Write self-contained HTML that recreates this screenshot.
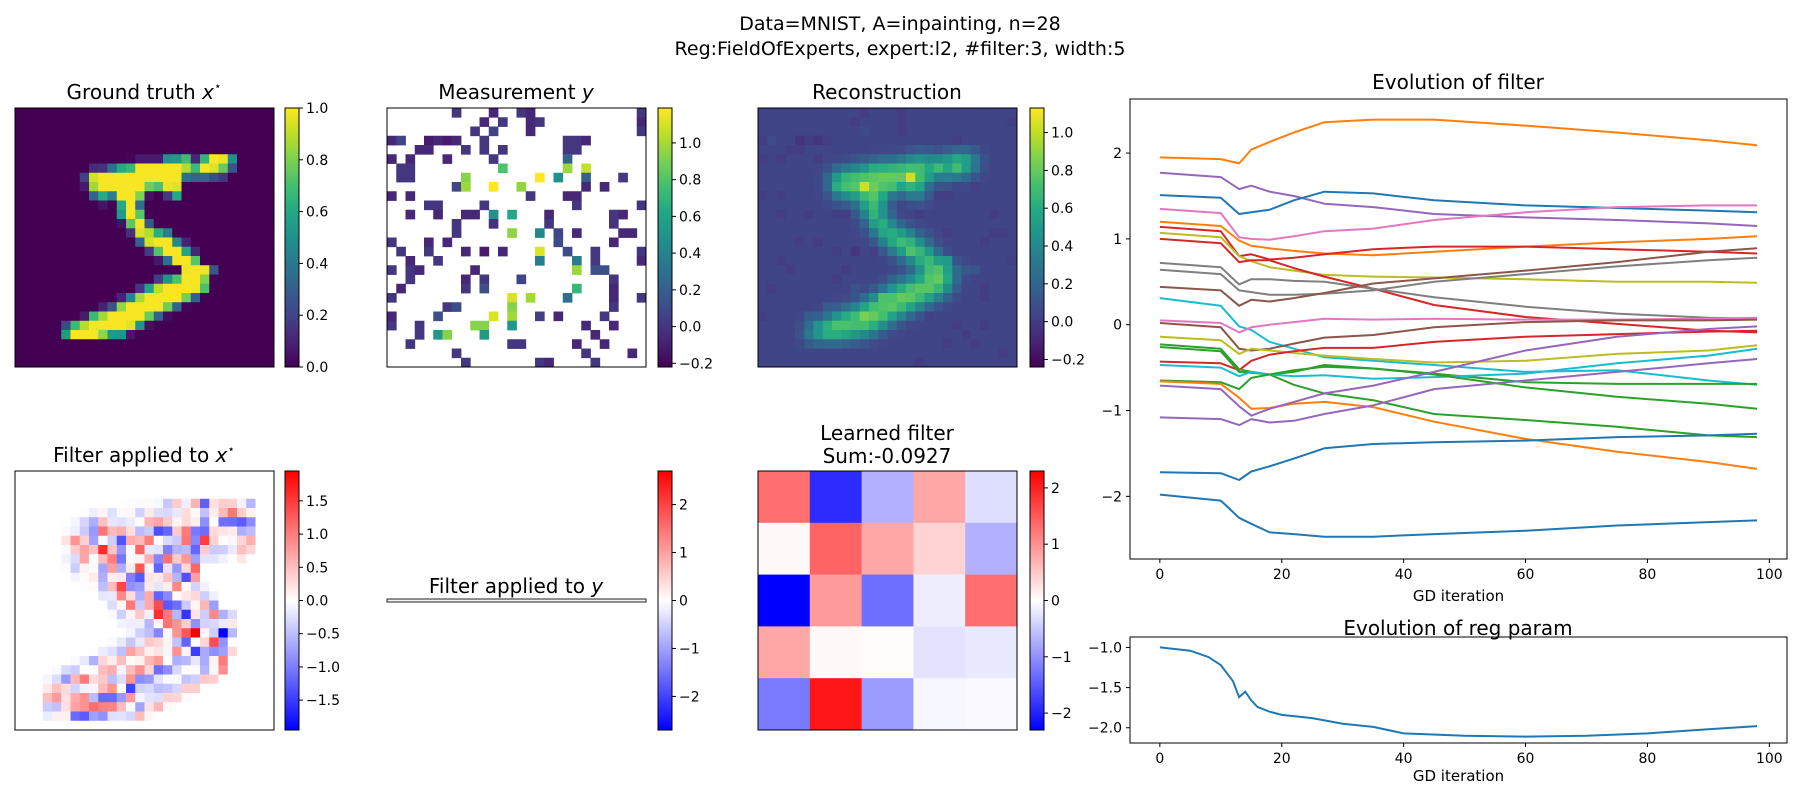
<!DOCTYPE html>
<html><head><meta charset="utf-8"><style>
html,body{margin:0;padding:0;background:#fff}
svg{display:block;font-family:"DejaVu Sans","Liberation Sans",sans-serif}
</style></head><body>
<svg id="fig" width="1800" height="800" viewBox="0 0 1800 800" xmlns="http://www.w3.org/2000/svg">
<rect width="1800" height="800" fill="#fff"/>
<text x="900" y="30" font-size="19" text-anchor="middle">Data=MNIST, A=inpainting, n=28</text>
<text x="900" y="55" font-size="19" text-anchor="middle">Reg:FieldOfExperts, expert:l2, #filter:3, width:5</text>
<text x="144" y="99" font-size="20" text-anchor="middle">Ground truth <tspan font-style="italic">x</tspan><tspan font-size="12" dy="-9">⋆</tspan></text>
<text x="516" y="99" font-size="20" text-anchor="middle">Measurement <tspan font-style="italic">y</tspan></text>
<text x="887" y="99" font-size="20" text-anchor="middle">Reconstruction</text>
<text x="144" y="462" font-size="20" text-anchor="middle">Filter applied to <tspan font-style="italic">x</tspan><tspan font-size="12" dy="-9">⋆</tspan></text>
<text x="516" y="593" font-size="20" text-anchor="middle">Filter applied to <tspan font-style="italic">y</tspan></text>
<text x="887" y="440" font-size="20" text-anchor="middle">Learned filter</text>
<text x="887" y="463" font-size="20" text-anchor="middle">Sum:-0.0927</text>
<text x="1458" y="89" font-size="20" text-anchor="middle">Evolution of filter</text>
<text x="1458" y="635" font-size="20" text-anchor="middle">Evolution of reg param</text>
<g id="layer"></g>
</svg>
<script>
// ---------- DATA ----------
const GT_SPARSE = [
[5,12,[3,18,18,18,126,136,175,26,166,255,247,127]],
[6,8,[30,36,94,154,170,253,253,253,253,253,225,172,253,242,195,64]],
[7,7,[49,238,253,253,253,253,253,253,253,253,251,93,82,82,56,39]],
[8,7,[18,219,253,253,253,253,253,198,182,247,241]],
[9,8,[80,156,107,253,253,205,11,0,43,154]],
[10,9,[14,1,154,253,90]],
[11,11,[139,253,190,2]],
[12,11,[11,190,253,70]],
[13,12,[35,241,225,160,108,1]],
[14,13,[81,240,253,253,119,25]],
[15,14,[45,186,253,253,150,27]],
[16,15,[16,93,252,253,187]],
[17,18,[249,253,249,64]],
[18,15,[46,130,183,253,253,207,2]],
[19,13,[39,148,229,253,253,253,250,182]],
[20,11,[24,114,221,253,253,253,253,201,78]],
[21,9,[23,66,213,253,253,253,253,198,81,2]],
[22,7,[18,171,219,253,253,253,253,195,80,9]],
[23,5,[55,172,226,253,253,253,253,244,133,11]],
[24,5,[136,253,253,253,212,135,132,16]]
];
const MASK_ROWS = [
".......3...2..32...........3",
"..........2.3..23..........2",
".........3.4...2...........3",
"24..1212..3........332......",
"...22...3.3.3......33.......",
"2.2...2....3.......5........",
".33.........5......8.5......",
".33.....3.......9.5..3...3..",
".......35..9..6......2.2....",
"2.2............3...22.......",
"....33....3.........3......3",
"..2..2..22.2.1...2......32..",
".......3...2.....3......3...",
".......3.....3..3.4.2....22.",
"3...2.2...........3.....2...",
".3..3...2.1.2...5..3..3....3",
"..2..3..........3...9.3....2",
"3.32.....2..........3.55....",
"..3.....2.3...4.........3...",
".2......3.5.........3...2...",
"3............7.3...3....2..3",
"......35.....2..........3...",
"2....5.....5.3..3.2....3....",
"3..3.....22..3.......2..2...",
"...3.32...3...........2.....",
"..3..........33.....2..2....",
".......3.............3....2.",
"........3.......32....3....."
];
const FILTER = [
[1.3,-1.9,-0.7,0.8,-0.3],
[0.05,1.4,0.8,0.4,-0.7],
[-2.3,0.9,-1.3,-0.15,1.3],
[0.8,0.05,0.03,-0.25,-0.2],
[-1.2,2.1,-0.9,-0.07,-0.05]
];
const ITERS = [0,10,13,15,18,22,27,35,45,60,75,90,98];
const F1=[1.95,1.93,1.88,2.04,2.13,2.24,2.36,2.39,2.39,2.32,2.24,2.15,2.09];
const F2=[1.77,1.72,1.58,1.62,1.55,1.50,1.41,1.37,1.29,1.25,1.22,1.18,1.15];
const F3=[1.51,1.48,1.29,1.31,1.34,1.45,1.55,1.53,1.45,1.39,1.36,1.33,1.31];
const F4=[1.35,1.30,1.02,1.00,0.99,1.03,1.09,1.12,1.22,1.31,1.37,1.39,1.39];
const F5=[1.20,1.15,0.98,0.92,0.89,0.86,0.83,0.81,0.85,0.91,0.96,1.00,1.03];
const F6=[1.14,1.09,0.80,0.82,0.76,0.78,0.82,0.88,0.91,0.91,0.88,0.85,0.83];
const F7=[1.07,1.02,0.80,0.74,0.67,0.63,0.58,0.56,0.55,0.53,0.50,0.50,0.49];
const F8=[1.00,0.95,0.73,0.75,0.75,0.66,0.56,0.42,0.23,0.09,0.01,-0.07,-0.09];
const F9=[0.72,0.67,0.47,0.53,0.53,0.51,0.50,0.42,0.32,0.21,0.13,0.08,0.07];
const F10=[0.64,0.59,0.40,0.38,0.35,0.35,0.36,0.40,0.50,0.59,0.68,0.75,0.78];
const F11=[0.44,0.40,0.22,0.29,0.27,0.31,0.37,0.48,0.54,0.63,0.73,0.85,0.89];
const F12=[0.31,0.22,-0.02,-0.06,-0.20,-0.28,-0.38,-0.42,-0.47,-0.55,-0.53,-0.65,-0.70];
const F13=[0.05,0.02,-0.09,-0.03,0.00,0.03,0.07,0.06,0.07,0.06,0.06,0.07,0.08];
const F14=[0.02,-0.03,-0.28,-0.30,-0.28,-0.22,-0.15,-0.12,-0.03,0.03,0.05,0.05,0.06];
const F15=[-0.14,-0.18,-0.34,-0.28,-0.30,-0.33,-0.36,-0.40,-0.44,-0.42,-0.34,-0.30,-0.24];
const F16=[-0.43,-0.45,-0.53,-0.42,-0.35,-0.31,-0.27,-0.27,-0.20,-0.14,-0.11,-0.08,-0.07];
const F17=[-0.23,-0.28,-0.52,-0.55,-0.58,-0.55,-0.47,-0.51,-0.57,-0.67,-0.69,-0.69,-0.69];
const F18=[-0.26,-0.31,-0.55,-0.56,-0.58,-0.70,-0.80,-0.88,-1.04,-1.11,-1.19,-1.29,-1.31];
const F19=[-0.47,-0.50,-0.60,-0.55,-0.58,-0.60,-0.59,-0.63,-0.61,-0.57,-0.45,-0.36,-0.28];
const F20=[-0.65,-0.67,-0.75,-0.62,-0.58,-0.53,-0.49,-0.51,-0.58,-0.73,-0.84,-0.92,-0.98];
const F21=[-0.66,-0.69,-0.85,-0.98,-0.97,-0.92,-0.90,-0.96,-1.13,-1.33,-1.48,-1.60,-1.68];
const F22=[-0.71,-0.75,-0.95,-1.06,-0.98,-0.90,-0.80,-0.71,-0.55,-0.30,-0.14,-0.05,-0.02];
const F23=[-1.08,-1.10,-1.17,-1.10,-1.14,-1.12,-1.04,-0.94,-0.75,-0.65,-0.55,-0.45,-0.40];
const F24=[-1.72,-1.73,-1.81,-1.71,-1.65,-1.56,-1.44,-1.39,-1.37,-1.35,-1.31,-1.29,-1.27];
const F25=[-1.98,-2.05,-2.25,-2.32,-2.42,-2.44,-2.47,-2.47,-2.44,-2.40,-2.34,-2.30,-2.28];
const FILTER_SERIES=[F1,F2,F3,F4,F5,F6,F7,F8,F9,F10,F11,F12,F13,F14,F15,F16,F17,F18,F19,F20,F21,F22,F23,F24,F25];
const SERIES_COLORS=["#ff7f0e","#9467bd","#1f77b4","#e377c2","#ff7f0e","#d62728","#bcbd22","#d62728","#7f7f7f","#7f7f7f","#8c564b","#17becf","#e377c2","#8c564b","#bcbd22","#d62728","#2ca02c","#2ca02c","#17becf","#2ca02c","#ff7f0e","#9467bd","#9467bd","#1f77b4","#1f77b4"];
const REG_ITERS=[0,5,8,10,12,13,14,15,16,18,20,25,30,35,40,50,60,70,80,90,98];
const REG_VALS=[-1.0,-1.04,-1.12,-1.22,-1.42,-1.62,-1.55,-1.66,-1.74,-1.8,-1.84,-1.88,-1.95,-1.99,-2.07,-2.1,-2.11,-2.1,-2.07,-2.02,-1.98];
const FILTER_X_TICKS=[0,20,40,60,80,100];
const FILTER_Y_TICKS=[-2,-1,0,1,2];
const REG_Y_TICKS=[-1.0,-1.5,-2.0];

// ---------- helpers ----------
const NS="http://www.w3.org/2000/svg";
const layer=document.getElementById('layer');
function mk(tag,attrs,parent){const e=document.createElementNS(NS,tag);for(const k in attrs)e.setAttribute(k,attrs[k]);(parent||layer).appendChild(e);return e;}
const VIR=["#440154","#482475","#414487","#355f8d","#2a788e","#21918c","#22a884","#44bf70","#7ad151","#bddf26","#fde725"];
function hex(h){return [parseInt(h.slice(1,3),16),parseInt(h.slice(3,5),16),parseInt(h.slice(5,7),16)];}
function viridis(t){t=Math.max(0,Math.min(1,t));const p=t*10,i=Math.min(9,Math.floor(p)),f=p-i;const a=hex(VIR[i]),b=hex(VIR[i+1]);return `rgb(${a.map((v,k)=>Math.round(v+(b[k]-v)*f)).join(',')})`;}
function bwr(t){t=Math.max(0,Math.min(1,t));let r,g,b;if(t<0.5){const f=t/0.5;r=Math.round(255*f);g=r;b=255;}else{const f=(t-0.5)/0.5;r=255;g=Math.round(255*(1-f));b=g;}return `rgb(${r},${g},${b})`;}

const GT=[];for(let r=0;r<28;r++){GT.push(new Array(28).fill(0));}
GT_SPARSE.forEach(([r,c,vals])=>vals.forEach((v,k)=>GT[r][c+k]=v/255));

function heat(name,x0,y0,w,h,grid,colorFn){
  const g=mk('g',{});
  
  
  const R=grid.length,C=grid[0].length,cw=w/C,ch=h/R;
  for(let r=0;r<R;r++)for(let c=0;c<C;c++){const v=grid[r][c];if(v===null)continue;
    const cell=mk('rect',{x:(x0+c*cw).toFixed(2),y:(y0+r*ch).toFixed(2),width:(cw+0.4).toFixed(2),height:(ch+0.4).toFixed(2),fill:colorFn(v)},g);
    
    }
  const fr=mk('rect',{x:x0,y:y0,width:w,height:h,fill:'none',stroke:'#000','stroke-width':1},g);
  
  
}
let gid=0;
function colorbar(name,x0,y0,y1,vmin,vmax,ticks,fmt,fn){
  const g=mk('g',{});
  
  
  const id='cg'+(gid++);
  const lg=mk('linearGradient',{id:id,x1:0,y1:1,x2:0,y2:0},g);
  for(let i=0;i<=20;i++)mk('stop',{offset:(i/20),'stop-color':fn(i/20)},lg);
  mk('rect',{x:x0,y:y0,width:14,height:y1-y0,fill:`url(#${id})`,stroke:'#000','stroke-width':1},g);
  ticks.forEach(t=>{const y=y1-(t-vmin)/(vmax-vmin)*(y1-y0);
    mk('line',{x1:x0+14,x2:x0+18,y1:y,y2:y,stroke:'#000','stroke-width':1},g);
    const tx=mk('text',{x:x0+21,y:y+5,'font-size':14},g);tx.textContent=fmt(t).replace('-','−');
    
    });
}
const f1=v=>v.toFixed(1), f0=v=>v.toFixed(0);

// ---------- ground truth ----------
heat('ground-truth-image',15,108,259,259,GT,v=>viridis(v));
colorbar('ground-truth-colorbar',285,108,367,0,1,[0,0.2,0.4,0.6,0.8,1.0],f1,viridis);

// ---------- measurement ----------
const MEAS=GT.map((row,r)=>row.map((v,c)=>{const ch=(MASK_ROWS[r]||'')[c];if(!ch||ch==='.')return null;return v+(parseInt(ch)-3)*0.06;}));
const mmin=-0.22,mmax=1.19;
heat('measurement-image',387,108,259,259,MEAS,v=>viridis((v-mmin)/(mmax-mmin)));
colorbar('measurement-colorbar',658,108,367,mmin,mmax,[-0.2,0,0.2,0.4,0.6,0.8,1.0],f1,viridis);

// ---------- reconstruction ----------
const RECON=GT.map((row,r)=>row.map((v,c)=>{let s=0,w=0;for(let a=-1;a<=1;a++)for(let b=-1;b<=1;b++){const rr=r+a,cc=c+b;if(rr<0||cc<0||rr>27||cc>27)continue;const k=(a===0?2:1)*(b===0?2:1);s+=GT[rr][cc]*k;w+=k;}
  const m=MEAS[r][c];return 0.04+0.8*(s/w)+(m===null?0:(m-v)*0.6);}));
const rmin=-0.24,rmax=1.13;
heat('reconstruction-image',758,108,259,259,RECON,v=>viridis((v-rmin)/(rmax-rmin)));
colorbar('reconstruction-colorbar',1030,108,367,rmin,rmax,[-0.2,0,0.2,0.4,0.6,0.8,1.0],f1,viridis);

// ---------- filter applied to x* (same padding) ----------
const FX=[];for(let i=0;i<28;i++){const row=[];for(let j=0;j<28;j++){let s=0;for(let a=0;a<5;a++)for(let b=0;b<5;b++){const rr=i-2+a,cc=j-2+b;if(rr<0||cc<0||rr>27||cc>27)continue;s+=FILTER[a][b]*GT[rr][cc];}row.push(s);}FX.push(row);}
let fxMax=0;FX.forEach(r=>r.forEach(v=>fxMax=Math.max(fxMax,Math.abs(v))));
heat('filter-applied-x-image',15,471,259,259,FX,v=>bwr(0.5+0.5*v/fxMax*1.1));
colorbar('filter-applied-x-colorbar',285,471,730,-1.95,1.95,[-1.5,-1,-0.5,0,0.5,1,1.5],f1,bwr);

// ---------- filter applied to y (squashed) ----------
const fy=mk('rect',{x:387,y:599,width:259,height:3,fill:'#f4f4f4',stroke:'#222','stroke-width':1});


colorbar('filter-applied-y-colorbar',658,471,730,-2.7,2.7,[-2,-1,0,1,2],f0,bwr);

// ---------- learned filter ----------
heat('learned-filter-image',758,471,259,259,FILTER,v=>bwr(0.5+0.5*v/2.3));
colorbar('learned-filter-colorbar',1030,471,730,-2.3,2.3,[-2,-1,0,1,2],f0,bwr);

// ---------- evolution of filter ----------
const EX0=1130,EX1=1787,EY0=99,EY1=559,XMIN=-4.9,XMAX=102.9,YMIN=-2.73,YMAX=2.63;
const ex=v=>EX0+(v-XMIN)/(XMAX-XMIN)*(EX1-EX0);
const ey=v=>EY0+(YMAX-v)/(YMAX-YMIN)*(EY1-EY0);
const eg=mk('g',{});


FILTER_SERIES.forEach((s,i)=>{const pl=mk('polyline',{points:s.map((v,k)=>ex(ITERS[k]).toFixed(1)+','+ey(v).toFixed(1)).join(' '),fill:'none',stroke:SERIES_COLORS[i],'stroke-width':2,'stroke-linejoin':'round'},eg);
  
  });
mk('rect',{x:EX0,y:EY0,width:EX1-EX0,height:EY1-EY0,fill:'none',stroke:'#000','stroke-width':1},eg);
FILTER_X_TICKS.forEach(t=>{const x=ex(t);mk('line',{x1:x,x2:x,y1:EY1,y2:EY1+4,stroke:'#000'},eg);const tx=mk('text',{x:x,y:EY1+20,'font-size':14,'text-anchor':'middle'},eg);tx.textContent=t;
  
  });
FILTER_Y_TICKS.forEach(t=>{const y=ey(t);mk('line',{x1:EX0-4,x2:EX0,y1:y,y2:y,stroke:'#000'},eg);const tx=mk('text',{x:EX0-8,y:y+5,'font-size':14,'text-anchor':'end'},eg);tx.textContent=String(t).replace('-','−');
  
  });
const xl=mk('text',{x:(EX0+EX1)/2,y:601,'font-size':15,'text-anchor':'middle'},eg);xl.textContent='GD iteration';



// ---------- evolution of reg param ----------
const RY0=637,RY1=743,RMAX=-0.87,RMIN=-2.19;
const ry=v=>RY0+(RMAX-v)/(RMAX-RMIN)*(RY1-RY0);
const rg=mk('g',{});


const rl=mk('polyline',{points:REG_VALS.map((v,k)=>ex(REG_ITERS[k]).toFixed(1)+','+ry(v).toFixed(1)).join(' '),fill:'none',stroke:'#1f77b4','stroke-width':2},rg);


mk('rect',{x:EX0,y:RY0,width:EX1-EX0,height:RY1-RY0,fill:'none',stroke:'#000','stroke-width':1},rg);
FILTER_X_TICKS.forEach(t=>{const x=ex(t);mk('line',{x1:x,x2:x,y1:RY1,y2:RY1+4,stroke:'#000'},rg);const tx=mk('text',{x:x,y:RY1+20,'font-size':14,'text-anchor':'middle'},rg);tx.textContent=t;
  
  });
REG_Y_TICKS.forEach(t=>{const y=ry(t);mk('line',{x1:EX0-4,x2:EX0,y1:y,y2:y,stroke:'#000'},rg);const tx=mk('text',{x:EX0-8,y:y+5,'font-size':14,'text-anchor':'end'},rg);tx.textContent=t.toFixed(1).replace('-','−');
  
  });
const xl2=mk('text',{x:(EX0+EX1)/2,y:781,'font-size':15,'text-anchor':'middle'},rg);xl2.textContent='GD iteration';


</script>
</body></html>
